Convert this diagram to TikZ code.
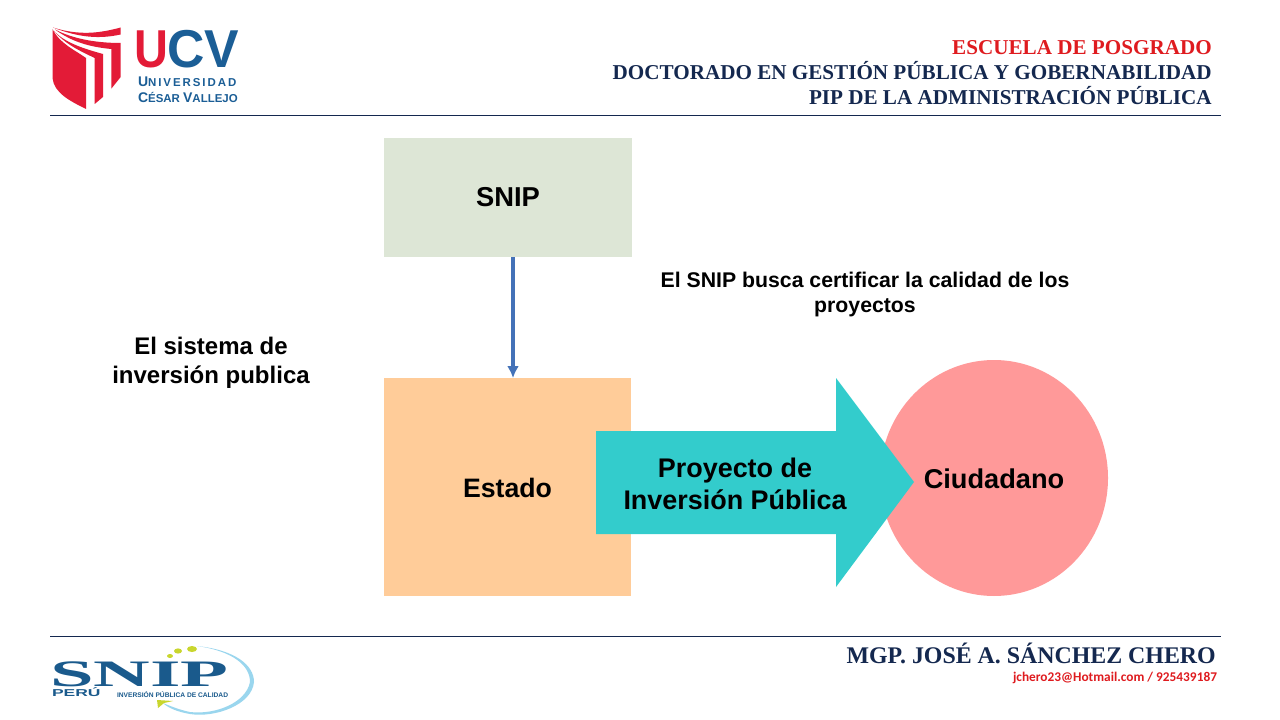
\documentclass[tikz,border=0pt]{standalone}
\usepackage{fontspec}
\usepackage{graphicx}
\usetikzlibrary{arrows.meta}
\setmainfont{Liberation Sans}
\newfontfamily\serifb{Liberation Serif}
\newfontfamily\carl{Carlito}
\newfontfamily\ucvs{Liberation Sans}[LetterSpace=17]
\definecolor{navy}{HTML}{14284F}
\definecolor{headred}{HTML}{DF1B1F}
\definecolor{ucvred}{HTML}{E31B37}
\definecolor{ucvblue}{HTML}{1B5E96}
\definecolor{snipgreen}{HTML}{DDE6D6}
\definecolor{estado}{HTML}{FFCC99}
\definecolor{arrowc}{HTML}{33CCCC}
\definecolor{circ}{HTML}{FF9999}
\definecolor{conn}{HTML}{4472B8}
\definecolor{snipblue}{HTML}{1A5A8C}
\definecolor{sky}{HTML}{9AD6EE}
\definecolor{lime}{HTML}{C9D62E}
\newcommand{\bigs}{\fontsize{10.5}{10.5}\selectfont}
\newcommand{\smls}{\fontsize{8.6}{10.5}\selectfont}
\tikzset{
  lab/.style={font=\bfseries, align=center, text=black, inner sep=0pt},
  box/.style={inner sep=0pt, outer sep=0pt},
  rule/.style={draw=navy, line width=0.75pt},
  head/.style={font=\serifb\bfseries\fontsize{15.85}{15.85}\selectfont, anchor=base east, inner sep=0pt}
}
\begin{document}
\begin{tikzpicture}[x=0.75pt,y=-0.75pt]
\useasboundingbox (0,0) rectangle (1280,720);
\fill[white] (0,0) rectangle (1280,720);
% rules
\coordinate (r1a) at (50,115.5); \coordinate (r1b) at (1221,115.5);
\coordinate (r2a) at (50,636.5); \coordinate (r2b) at (1221,636.5);
\draw[rule] (r1a) -- (r1b);
\draw[rule] (r2a) -- (r2b);
% UCV shield
\fill[ucvred] (52.5,29) .. controls (60,44) and (75,50) .. (86,58) -- (86,109) .. controls (70,101) and (54,93) .. (52.5,78) -- cycle;
\fill[ucvred] (53,27.5) .. controls (80,36) and (100,33) .. (120.7,27.5) -- (120.7,34.5) .. controls (100,39) and (80,38) .. (53,27.5) -- cycle;
\fill[ucvred] (55,29.5) .. controls (75,40) and (100,43) .. (120.7,43) -- (120.7,77) -- (111.3,88.7) -- (111.3,49) .. controls (90,47) and (72,42) .. (55,29.5) -- cycle;
\fill[ucvred] (54,31) .. controls (65,43) and (85,49) .. (103,54) -- (103,97) -- (94.7,104) -- (94.7,58) .. controls (80,51) and (65,44) .. (54,31) -- cycle;
% UCV text
\node[box, anchor=center, text=ucvred, font=\bfseries\fontsize{40}{40}\selectfont] (u) at (151.5,49) {\scalebox{.88}[1]{U}};
\node[box, anchor=center, text=ucvblue, font=\bfseries\fontsize{40}{40}\selectfont] (cv) at (203.5,49) {\scalebox{.97}[1]{CV}};
\node[box, anchor=west, text=ucvblue, font=\ucvs\bfseries] (uni) at (138,82) {\bigs U\smls NIVERSIDAD};
\node[box, anchor=west, text=ucvblue, font=\bfseries] (ces) at (138,97.5) {\bigs C\smls ÉSAR \bigs V\smls ALLEJO};
% header
\node[head, text=headred] (h1) at (1212,55) {ESCUELA DE POSGRADO};
\node[head, text=navy] (h2) at (1212,80) {DOCTORADO EN GESTIÓN PÚBLICA Y GOBERNABILIDAD};
\node[head, text=navy] (h3) at (1212,105) {PIP DE LA ADMINISTRACIÓN PÚBLICA};
% boxes
\fill[snipgreen] (384,138) rectangle (632,257);
\node[lab, font=\bfseries\fontsize{20.5}{24}\selectfont] (snip) at (508,197.5) {SNIP};
\fill[estado] (384,378) rectangle (631,596);
\coordinate (estadotop) at (513,378);
\coordinate (sniptop) at (513,257);
\draw[conn, line width=2.6pt, -{Latex[length=9pt,width=9pt]}] (sniptop) -- (estadotop);
\node[lab, font=\bfseries\fontsize{20}{24}\selectfont] (est) at (507.5,487.5) {Estado};
\fill[circ] (994,478) ellipse (114 and 118);
\fill[arrowc] (596,431) -- (836,431) -- (836,378) -- (914,482) -- (836,587) -- (836,534) -- (596,534) -- cycle;
\node[lab, font=\bfseries\fontsize{20.2}{24}\selectfont] (pip) at (735,483.5) {Proyecto de\\Inversión Pública};
\node[lab, font=\bfseries\fontsize{20.4}{24}\selectfont] (ciu) at (994,478.5) {Ciudadano};
\node[lab, font=\bfseries\fontsize{15.94}{19}\selectfont] (cert) at (865,294.5) {El SNIP busca certificar la calidad de los\\proyectos};
\node[lab, font=\bfseries\fontsize{18}{21.75}\selectfont] (sis) at (211,362.5) {El sistema de\\inversión publica};
% footer
\node[head, text=navy, font=\serifb\bfseries\fontsize{17.9}{17.9}\selectfont] (mgp) at (1216,663.5) {MGP. JOSÉ A. SÁNCHEZ CHERO};
\node[box, anchor=base east, text=headred, font=\carl\bfseries\fontsize{10}{10}\selectfont] (mail) at (1217,681) {jchero23@Hotmail.com / 925439187};
% SNIP logo
\fill[sky] (197,646) .. controls (235,650) and (254,665) .. (254,682) .. controls (252,705) and (215,718) .. (190,714) .. controls (178,712) and (168,708) .. (163,703) .. controls (170,706) and (180,710) .. (190,712) .. controls (215,715) and (246,703) .. (250,682) .. controls (250,665) and (232,651) .. (197,646) -- cycle;
\fill[lime] (157,700) -- (173,701) -- (164,703) -- (158,708) -- cycle;
\fill[lime] (192,649) ellipse (5 and 3);
\fill[lime] (178,651) ellipse (4 and 2.6);
\fill[lime] (170,656) ellipse (3 and 2);
\node[box, anchor=center, text=snipblue, font=\serifb\bfseries\fontsize{28}{28}\selectfont] (lsnip) at (139.5,674.5) {\scalebox{2.1}[1]{SNIP}};
\node[box, anchor=west, text=snipblue, font=\bfseries\fontsize{7.5}{7.5}\selectfont] (lper) at (52,692.5) {\scalebox{1.75}[1]{PERÚ}};
\node[box, anchor=west, text=snipblue, font=\bfseries\fontsize{5}{5}\selectfont] (linv) at (117,694.5) {INVERSIÓN PÚBLICA DE CALIDAD};
\end{tikzpicture}
\end{document}
